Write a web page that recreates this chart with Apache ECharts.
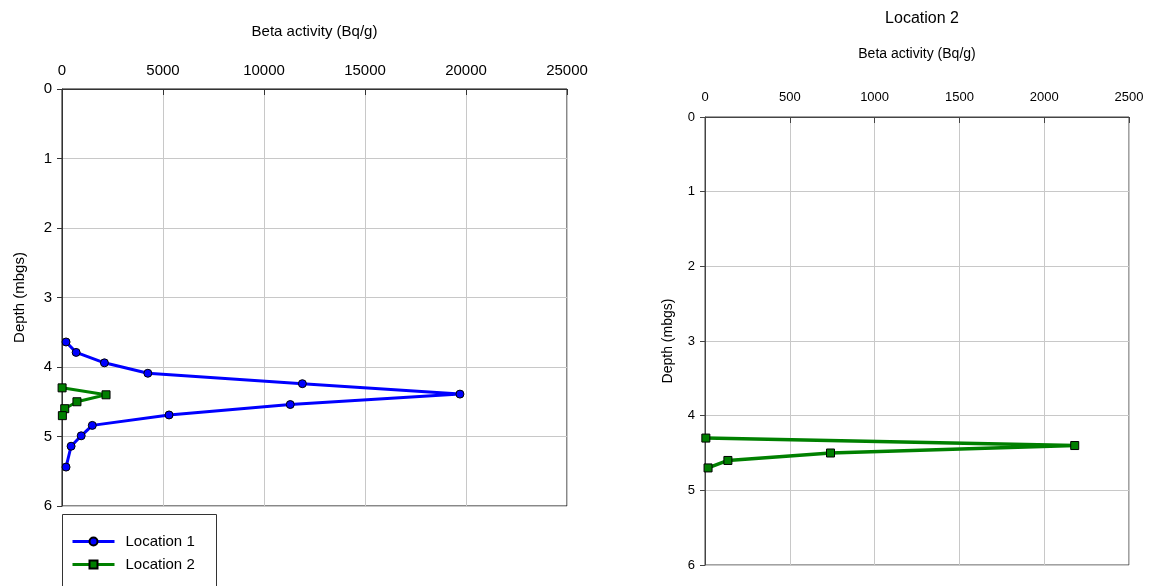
<!DOCTYPE html>
<html>
<head>
<meta charset="utf-8">
<script src="https://cdn.jsdelivr.net/npm/echarts@6/dist/echarts.min.js"></script>
<style>
html,body{margin:0;padding:0;background:#fff;}
#c{width:1151px;height:586px;}
</style>
</head>
<body>
<div id="c"></div>
<script>
// Location 1 profile: beta activity (Bq/g) vs depth (mbgs)
var loc1Activity = [200, 700, 2100, 4250, 11900, 19700, 11300, 5300, 1500, 950, 450, 200];
var loc1Depth    = [3.64, 3.79, 3.94, 4.09, 4.24, 4.39, 4.54, 4.69, 4.84, 4.99, 5.14, 5.44];
// Location 2 profile
var loc2Activity = [5, 2180, 740, 135, 18];
var loc2Depth    = [4.30, 4.40, 4.50, 4.60, 4.70];
// axis ticks
var leftXTicks  = [0, 5000, 10000, 15000, 20000, 25000];
var rightXTicks = [0, 500, 1000, 1500, 2000, 2500];
var depthTicks  = [0, 1, 2, 3, 4, 5, 6];

function pairs(xs, ys){ return xs.map(function(v,i){ return [v, ys[i]]; }); }
function plain(v){ return String(v); }

var FONT = 'Liberation Sans, Arial, sans-serif';
var chart = echarts.init(document.getElementById('c'), null, {renderer:'canvas'});

chart.setOption({
  animation:false,
  backgroundColor:'#fff',
  textStyle:{fontFamily:FONT},
  title:{
    text:'Location 2', left:917, top:6, textAlign:'center',
    textStyle:{fontFamily:FONT, fontSize:16, fontWeight:'normal', color:'#000'}
  },
  graphic:[{
    type:'rect', silent:true, z:10,
    shape:{x:62.5, y:514.5, width:154, height:90},
    style:{fill:'none', stroke:'#333', lineWidth:1}
  }],
  legend:{
    left:62, top:514, orient:'vertical',
    padding:[20, 10, 2, 9],
    itemWidth:42, itemHeight:10, itemGap:8,
    textStyle:{fontFamily:FONT, fontSize:15, color:'#000', padding:[0,0,0,6]},
    data:[
      {name:'Location 1', lineStyle:{width:3}},
      {name:'Location 2', lineStyle:{width:3}}
    ]
  },
  grid:[
    {left:62, top:89, width:505, height:417, show:true, borderColor:'#111', borderWidth:1, containLabel:false},
    {left:705, top:117, width:424, height:448, show:true, borderColor:'#444', borderWidth:1, containLabel:false}
  ],
  xAxis:[
    {
      gridIndex:0, type:'value', position:'top', min:leftXTicks[0], max:leftXTicks[leftXTicks.length-1], interval:5000,
      name:'Beta activity (Bq/g)', nameLocation:'middle', nameGap:50,
      nameTextStyle:{fontFamily:FONT, fontSize:15, color:'#000'},
      axisLine:{show:true, lineStyle:{color:'#333'}},
      axisTick:{show:true, inside:true, length:6, lineStyle:{color:'#333'}},
      axisLabel:{fontFamily:FONT, fontSize:15, color:'#000', margin:11, formatter:plain},
      splitLine:{show:true, lineStyle:{color:'#c8c8c8'}}
    },
    {
      gridIndex:1, type:'value', position:'top', min:rightXTicks[0], max:rightXTicks[rightXTicks.length-1], interval:500,
      name:'Beta activity (Bq/g)', nameLocation:'middle', nameGap:56,
      nameTextStyle:{fontFamily:FONT, fontSize:14, color:'#000'},
      axisLine:{show:true, lineStyle:{color:'#444'}},
      axisTick:{show:true, inside:true, length:6, lineStyle:{color:'#444'}},
      axisLabel:{fontFamily:FONT, fontSize:13, color:'#000', margin:13, formatter:plain},
      splitLine:{show:true, lineStyle:{color:'#c8c8c8'}}
    }
  ],
  yAxis:[
    {
      gridIndex:0, type:'value', inverse:true, min:depthTicks[0], max:depthTicks[depthTicks.length-1], interval:1,
      name:'Depth (mbgs)', nameLocation:'middle', nameGap:35, nameRotate:90,
      nameTextStyle:{fontFamily:FONT, fontSize:15, color:'#000'},
      axisLine:{show:true, lineStyle:{color:'#333'}},
      axisTick:{show:true, length:5, lineStyle:{color:'#333'}},
      axisLabel:{fontFamily:FONT, fontSize:15, color:'#000', margin:10},
      splitLine:{show:true, lineStyle:{color:'#c8c8c8'}}
    },
    {
      gridIndex:1, type:'value', inverse:true, min:depthTicks[0], max:depthTicks[depthTicks.length-1], interval:1,
      name:'Depth (mbgs)', nameLocation:'middle', nameGap:30, nameRotate:90,
      nameTextStyle:{fontFamily:FONT, fontSize:14, color:'#000'},
      axisLine:{show:true, lineStyle:{color:'#444'}},
      axisTick:{show:true, length:5, lineStyle:{color:'#444'}},
      axisLabel:{fontFamily:FONT, fontSize:13, color:'#000', margin:10},
      splitLine:{show:true, lineStyle:{color:'#c8c8c8'}}
    }
  ],
  series:[
    {
      name:'Location 1', type:'line', xAxisIndex:0, yAxisIndex:0,
      data:pairs(loc1Activity, loc1Depth),
      symbol:'circle', symbolSize:8,
      lineStyle:{color:'#0000ff', width:3},
      itemStyle:{color:'#0000ff', borderColor:'#000', borderWidth:1},
      z:3
    },
    {
      name:'Location 2', type:'line', xAxisIndex:0, yAxisIndex:0,
      data:pairs(loc2Activity, loc2Depth),
      symbol:'rect', symbolSize:8,
      lineStyle:{color:'#008000', width:3},
      itemStyle:{color:'#008000', borderColor:'#000', borderWidth:1},
      z:4
    },
    {
      name:'Location 2 ', type:'line', xAxisIndex:1, yAxisIndex:1,
      data:pairs(loc2Activity, loc2Depth),
      symbol:'rect', symbolSize:8,
      lineStyle:{color:'#008000', width:3.5},
      itemStyle:{color:'#008000', borderColor:'#000', borderWidth:1}
    }
  ]
});
</script>
</body>
</html>
